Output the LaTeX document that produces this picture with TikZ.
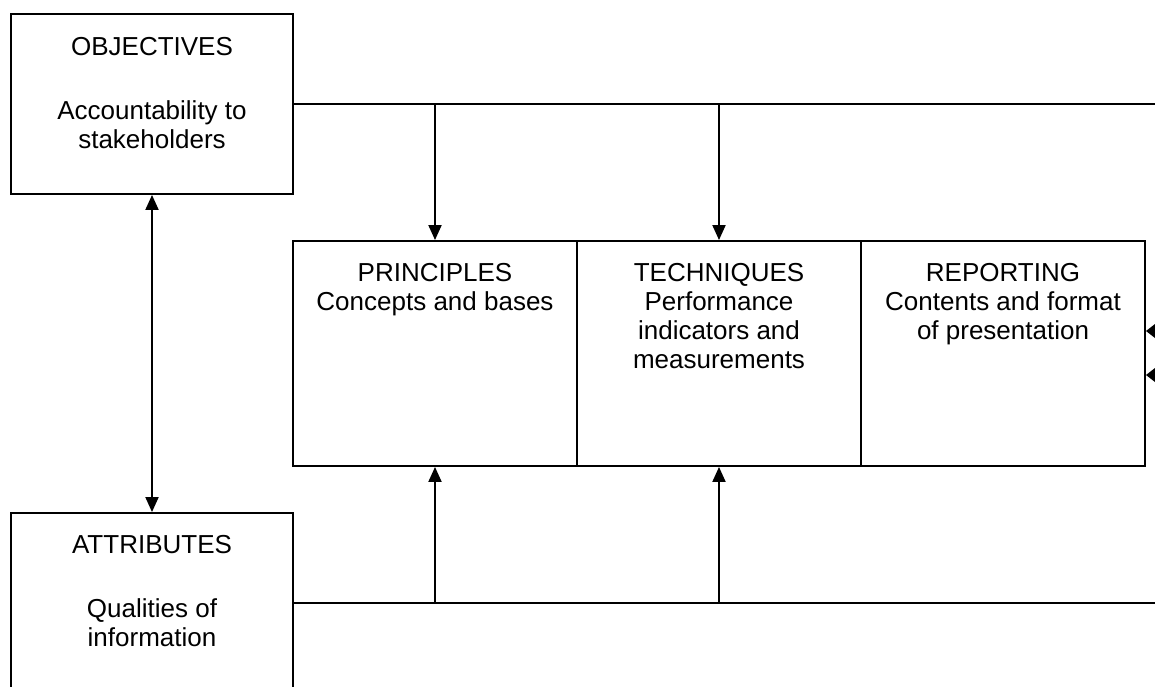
\documentclass[tikz,border=0pt]{standalone}
\usepackage{fontspec}
\setmainfont{Liberation Sans}
\usetikzlibrary{arrows.meta}

\begin{document}
\begin{tikzpicture}[x=0.02cm,y=-0.02cm,line width=1.1pt,
    >={Triangle[length=0.3cm,width=0.26cm]}]
  \useasboundingbox (0,0) rectangle (1155,686);
  \clip (0,0) rectangle (1155,686);

      \begin{scope}[every node/.style={rectangle,draw,line width=1.1pt,inner sep=0pt}]
        \node[minimum width=5.64cm,minimum height=3.6cm] (obj) at (152,104) {};
        \node[minimum width=5.64cm,minimum height=3.6cm] (attr) at (152,603) {};

        \node[minimum width=5.68cm,minimum height=4.5cm] (prin) at (435,353.5) {};
        \node[minimum width=5.68cm,minimum height=4.5cm] (tech) at (719,353.5) {};
        \node[minimum width=5.68cm,minimum height=4.5cm] (rep) at (1003,353.5) {};
      \end{scope}

      \begin{scope}[every node/.style={align=center,inner sep=0pt,anchor=north,
          font=\fontsize{14.8}{16.5}\selectfont}]
        \node (obj_t) at ([yshift=-0.46cm]obj.north) {OBJECTIVES\\[20pt]Accountability to\\stakeholders};
        \node (attr_t) at ([yshift=-0.44cm]attr.north) {ATTRIBUTES\\[20pt]Qualities of\\information};

        \node (prin_t) at ([yshift=-0.44cm]prin.north) {PRINCIPLES\\Concepts and bases};
        \node (tech_t) at ([yshift=-0.44cm]tech.north) {TECHNIQUES\\Performance\\indicators and\\measurements};
        \node (rep_t) at ([yshift=-0.44cm]rep.north) {REPORTING\\Contents and format\\of presentation};
      \end{scope}

      \coordinate (top_r) at (1160,104);
      \coordinate (bot_r) at (1160,603);
      \coordinate (in_a) at (1165,331);
      \coordinate (in_b) at (1165,375);

      \begin{scope}
        \draw (obj.east) -- (top_r);
        \draw [->] (prin.north |- obj.east) -- (prin.north);
        \draw [->] (tech.north |- obj.east) -- (tech.north);

        \draw (attr.east) -- (bot_r);
        \draw [->] (prin.south |- attr.east) -- (prin.south);
        \draw [->] (tech.south |- attr.east) -- (tech.south);

        \draw [<->] (obj.south) -- (attr.north);

        % short stubs coming in from the cut right edge
        \draw [-{Triangle[length=0.2cm,width=0.3cm]}] (in_a) -- (in_a -| rep.east);
        \draw [-{Triangle[length=0.2cm,width=0.3cm]}] (in_b) -- (in_b -| rep.east);
      \end{scope}
    \end{tikzpicture}
\end{document}
